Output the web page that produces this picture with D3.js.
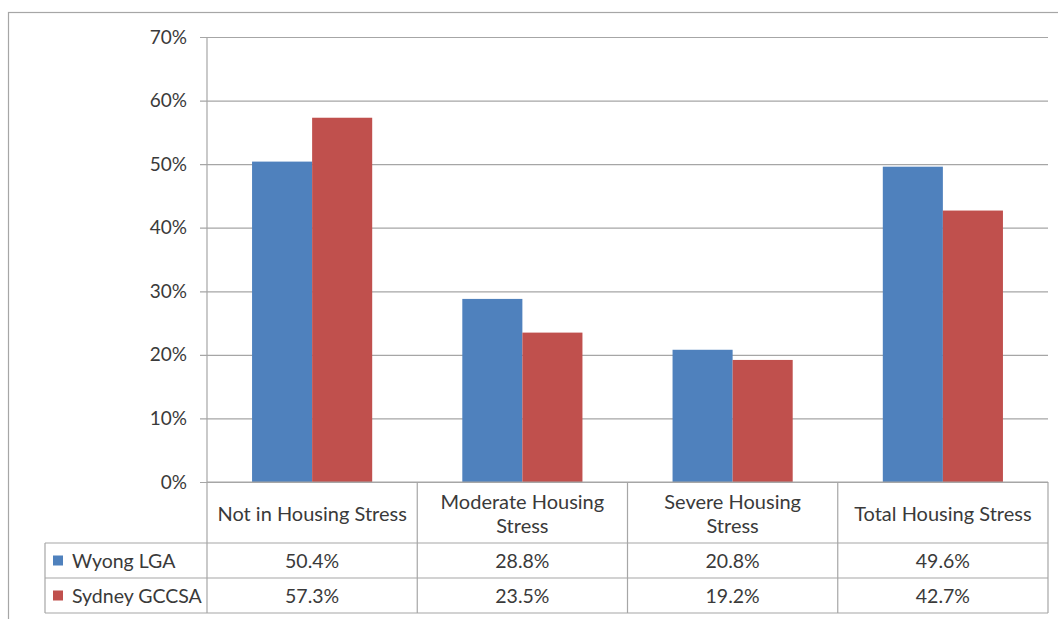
<!DOCTYPE html>
<html><head><meta charset="utf-8">
<script src="https://cdn.jsdelivr.net/npm/d3@7/dist/d3.min.js"></script>
<style>body{margin:0;background:#fff;} svg{display:block;}</style>
</head><body>
<svg id="c" width="1058" height="619"></svg>
<script>
const categories = [["Not in Housing Stress"], ["Moderate Housing", "Stress"], ["Severe Housing", "Stress"], ["Total Housing Stress"]];
const seriesNames = ["Wyong LGA", "Sydney GCCSA"];
const wyong = [50.4, 28.8, 20.8, 49.6];
const sydney = [57.3, 23.5, 19.2, 42.7];
const yTicks = [0, 10, 20, 30, 40, 50, 60, 70];
const colors = ["#4F81BD", "#C0504D"];

const svg = d3.select("#c");
const font = "Lato, 'Open Sans', sans-serif";
const plotLeft = 207, plotRight = 1048, plotTop = 37, plotBottom = 482;
const rowH = [482, 543, 578, 613];
const legendLeft = 45;

// outer border
svg.append("rect").attr("x", 8.5).attr("y", 12.5).attr("width", 1070).attr("height", 640)
  .attr("fill", "none").attr("stroke", "#a6a6a6").attr("stroke-width", 1.2);

const x = d3.scaleBand().domain(d3.range(categories.length)).range([plotLeft, plotRight]).paddingInner(0).paddingOuter(0);
const y = d3.scaleLinear().domain([0, 70]).range([plotBottom, plotTop]);
const inner = d3.scaleBand().domain([0, 1]).range([0, x.bandwidth()]).paddingOuter(0.75).paddingInner(0);

// gridlines + ticks
const yAxis = d3.axisLeft(y).tickValues(yTicks).tickFormat(d => d + "%").tickSize(-(plotRight - plotLeft)).tickPadding(20);
const g = svg.append("g").attr("transform", `translate(${plotLeft},0)`).call(yAxis);
g.select(".domain").remove();
g.selectAll(".tick line").attr("stroke", "#a6a6a6").attr("stroke-width", 1.2).attr("x1", -7);
g.selectAll(".tick text").attr("fill", "#3a3a3a").style("font-family", font).style("font-size", "19px");

// y axis line
svg.append("line").attr("x1", plotLeft).attr("x2", plotLeft).attr("y1", plotTop).attr("y2", plotBottom)
  .attr("stroke", "#a6a6a6").attr("stroke-width", 1.2);

// bars
const series = [wyong, sydney];
series.forEach((vals, si) => {
  svg.append("g").selectAll("rect").data(vals).join("rect")
    .attr("x", (d, i) => x(i) + inner(si))
    .attr("width", inner.bandwidth())
    .attr("y", d => y(d))
    .attr("height", d => y(0) - y(d))
    .attr("fill", colors[si]);
});

// table
const tc = "#a6a6a6";
const t = svg.append("g");
t.append("line").attr("x1", plotLeft).attr("x2", plotRight).attr("y1", rowH[0]).attr("y2", rowH[0]).attr("stroke", tc).attr("stroke-width", 1.2);
[rowH[1], rowH[2], rowH[3]].forEach(yy => {
  t.append("line").attr("x1", legendLeft).attr("x2", plotRight).attr("y1", yy).attr("y2", yy).attr("stroke", tc).attr("stroke-width", 1.2);
});
d3.range(categories.length + 1).forEach(i => {
  const xx = i < categories.length ? x(i) : plotRight;
  t.append("line").attr("x1", xx).attr("x2", xx).attr("y1", rowH[0]).attr("y2", rowH[3]).attr("stroke", tc).attr("stroke-width", 1.2);
});
t.append("line").attr("x1", legendLeft).attr("x2", legendLeft).attr("y1", rowH[1]).attr("y2", rowH[3]).attr("stroke", tc).attr("stroke-width", 1.2);

categories.forEach((lines, i) => {
  const cx = x(i) + x.bandwidth() / 2;
  const mid = (rowH[0] + rowH[1]) / 2;
  const lh = 24;
  lines.forEach((ln, k) => {
    t.append("text").attr("x", cx).attr("y", mid + (k - (lines.length - 1) / 2) * lh)
      .attr("text-anchor", "middle").attr("dominant-baseline", "central")
      .attr("fill", "#3a3a3a").style("font-family", font).style("font-size", "20px").text(ln);
  });
});
series.forEach((vals, si) => {
  const mid = (rowH[si + 1] + rowH[si + 2]) / 2;
  t.append("rect").attr("x", 53).attr("y", mid - 5).attr("width", 10).attr("height", 10).attr("fill", colors[si]);
  t.append("text").attr("x", 72).attr("y", mid).attr("dominant-baseline", "central")
    .attr("fill", "#3a3a3a").style("font-family", font).style("font-size", "19.5px").text(seriesNames[si]);
  vals.forEach((v, i) => {
    t.append("text").attr("x", x(i) + x.bandwidth() / 2).attr("y", mid)
      .attr("text-anchor", "middle").attr("dominant-baseline", "central")
      .attr("fill", "#3a3a3a").style("font-family", font).style("font-size", "19.5px").text(v.toFixed(1) + "%");
  });
});
</script>
</body></html>
